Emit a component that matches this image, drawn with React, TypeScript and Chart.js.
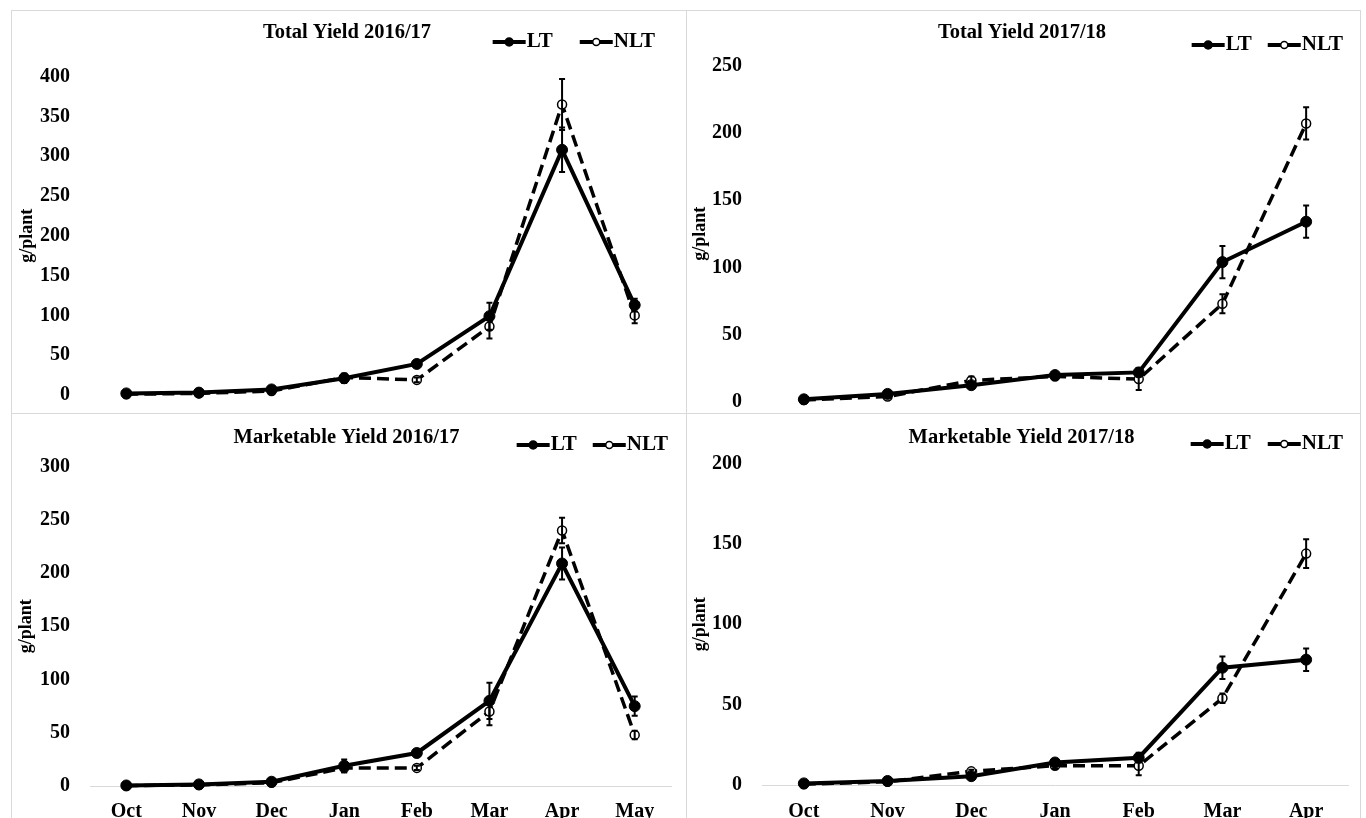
import React, { useEffect, useRef } from 'react';
import { Chart, registerables } from 'chart.js';

Chart.register(...registerables);

// ---------- data ----------
const months8 = ['Oct', 'Nov', 'Dec', 'Jan', 'Feb', 'Mar', 'Apr', 'May'];
const months7 = ['Oct', 'Nov', 'Dec', 'Jan', 'Feb', 'Mar', 'Apr'];
const seriesNames = ['LT', 'NLT'];
const yAxisLabel = 'g/plant';

const totalTitle1617 = 'Total Yield 2016/17';
const totalLT1617 = [2, 3, 7, 21, 39, 99, 308, 113];
const totalLT1617Err = [0, 0, 0, 6, 3, 17, 28, 8];
const totalNLT1617 = [1, 2, 5, 22, 19, 86, 365, 100];
const totalNLT1617Err = [0, 0, 0, 4, 3, 15, 32, 10];

const totalTitle1718 = 'Total Yield 2017/18';
const totalLT1718 = [2, 6, 12.5, 20, 22, 104, 134];
const totalLT1718Err = [0, 0, 2, 2, 3, 12, 12];
const totalNLT1718 = [1.5, 4, 16, 19, 17, 73, 207];
const totalNLT1718Err = [0, 0, 3, 2, 8, 7, 12];

const mktTitle1617 = 'Marketable Yield 2016/17';
const mktLT1617 = [0.5, 1.5, 4, 19, 31, 80, 209, 75];
const mktLT1617Err = [0, 0, 0, 6, 2, 17, 15, 9];
const mktNLT1617 = [0.3, 1, 3, 17, 17, 70, 240, 48];
const mktNLT1617Err = [0, 0, 0, 4, 2, 13, 12, 4];

const mktTitle1718 = 'Marketable Yield 2017/18';
const mktLT1718 = [1, 2.5, 5.5, 14, 17, 73, 78];
const mktLT1718Err = [0, 0, 1, 2, 3, 7, 7];
const mktNLT1718 = [0.5, 2, 8.5, 12, 12, 54, 144];
const mktNLT1718Err = [0, 0, 1, 2, 6, 3, 9];

// ---------- style ----------
const FONT = 'Liberation Serif';
const FRAME = '#d9d9d9';

// ---------- plugins ----------
const errorBars = {
  id: 'errorBars',
  afterDatasetsDraw(chart: any) {
    const ctx = chart.ctx;
    const yScale = chart.scales.y;
    ctx.save();
    ctx.strokeStyle = '#000';
    ctx.lineWidth = 2;
    ctx.setLineDash([]);
    chart.data.datasets.forEach((ds: any, di: number) => {
      const meta = chart.getDatasetMeta(di);
      const errs = ds.errors || [];
      meta.data.forEach((pt: any, i: number) => {
        const v = ds.data[i];
        const e = errs[i];
        if (!e) return;
        const yt = yScale.getPixelForValue(v + e);
        const yb = yScale.getPixelForValue(Math.max(0, v - e));
        ctx.beginPath();
        ctx.moveTo(pt.x, yt);
        ctx.lineTo(pt.x, yb);
        ctx.moveTo(pt.x - 3, yt);
        ctx.lineTo(pt.x + 3, yt);
        ctx.moveTo(pt.x - 3, yb);
        ctx.lineTo(pt.x + 3, yb);
        ctx.stroke();
      });
    });
    ctx.restore();
  },
};

const lineLegend = {
  id: 'lineLegend',
  afterDraw(chart: any, _args: any, opts: any) {
    if (!opts || opts.right === undefined) return;
    const ctx = chart.ctx;
    const dsets = chart.data.datasets;
    ctx.save();
    ctx.font = `bold ${opts.fontSize}px "${FONT}"`;
    ctx.textBaseline = 'middle';
    ctx.textAlign = 'left';
    let x = opts.right;
    const y = opts.y;
    for (let i = dsets.length - 1; i >= 0; i--) {
      const ds = dsets[i];
      const w = ctx.measureText(ds.label).width;
      x -= w;
      ctx.fillStyle = '#000';
      ctx.fillText(ds.label, x, y);
      x -= 1;
      const x1 = x - opts.lineLength;
      ctx.strokeStyle = '#000';
      ctx.lineWidth = 4;
      ctx.setLineDash([]);
      ctx.beginPath();
      ctx.moveTo(x1, y);
      ctx.lineTo(x, y);
      ctx.stroke();
      ctx.beginPath();
      ctx.arc((x1 + x) / 2, y, ds.legendRadius, 0, Math.PI * 2);
      ctx.fillStyle = ds.pointBackgroundColor;
      ctx.fill();
      ctx.lineWidth = 1.5;
      ctx.stroke();
      x = x1 - opts.gap;
    }
    ctx.restore();
  },
};

// ---------- panel ----------
type PanelProps = {
  left: number; top: number; width: number; height: number;
  labels: string[]; title: string;
  lt: number[]; ltErr: number[]; nlt: number[]; nltErr: number[];
  yMax: number; showX: boolean; xHeight: number; xPad: number;
  padLeft: number; padRight: number; padBottom: number;
  yWidth: number; yTitlePad: number;
  titleTop: number; titleBottom: number;
  legendRight: number; legendY: number; legendGap: number;
};

function Panel(p: PanelProps) {
  const ref = useRef<HTMLCanvasElement | null>(null);
  useEffect(() => {
    if (!ref.current) return;
    const chart = new Chart(ref.current, {
      type: 'line',
      data: {
        labels: p.labels,
        datasets: [
          {
            label: seriesNames[0],
            data: p.lt,
            errors: p.ltErr,
            borderColor: '#000',
            borderWidth: 4,
            pointRadius: 5.5,
            pointBackgroundColor: '#000',
            pointBorderColor: '#000',
            pointBorderWidth: 1,
            legendRadius: 4,
            tension: 0,
            clip: false,
          } as any,
          {
            label: seriesNames[1],
            data: p.nlt,
            errors: p.nltErr,
            borderColor: '#000',
            borderWidth: 3.5,
            borderDash: [12, 6],
            pointRadius: 4.5,
            pointBackgroundColor: '#fff',
            pointBorderColor: '#000',
            pointBorderWidth: 1.5,
            legendRadius: 3.5,
            tension: 0,
            clip: false,
          } as any,
        ],
      },
      options: {
        responsive: false,
        animation: false,
        layout: { padding: { left: p.padLeft, right: p.padRight, top: 0, bottom: p.padBottom } },
        plugins: {
          legend: { display: false },
          tooltip: { enabled: false },
          title: {
            display: true,
            text: p.title,
            color: '#000',
            align: 'center',
            font: { family: FONT, size: 20.5, weight: 'bold', lineHeight: 1.2 },
            padding: { top: p.titleTop, bottom: p.titleBottom },
          },
          lineLegend: { right: p.legendRight, y: p.legendY, gap: p.legendGap, lineLength: 33, fontSize: 21 },
        } as any,
        scales: {
          x: {
            type: 'category',
            offset: true,
            display: p.showX,
            grid: { display: false, drawTicks: false },
            border: { display: true, color: FRAME, width: 1 },
            ticks: {
              color: '#000',
              font: { family: FONT, size: 20, weight: 'bold', lineHeight: 1.2 },
              padding: p.xPad,
              maxRotation: 0,
              autoSkip: false,
            },
            afterFit: (s: any) => { s.height = p.xHeight; },
          },
          y: {
            min: 0,
            max: p.yMax,
            grid: { display: false, drawTicks: false },
            border: { display: false },
            ticks: {
              stepSize: 50,
              color: '#000',
              font: { family: FONT, size: 20, weight: 'bold', lineHeight: 1 },
              padding: 20,
            },
            title: {
              display: true,
              text: yAxisLabel,
              color: '#000',
              font: { family: FONT, size: 18, weight: 'bold', lineHeight: 1.2 },
              padding: { top: p.yTitlePad, bottom: 0 },
            },
            afterFit: (s: any) => {
              s.width = p.yWidth;
              s.paddingTop = 0;
              s.paddingBottom = 0;
            },
          },
        } as any,
      },
      plugins: [errorBars, lineLegend],
    } as any);
    return () => chart.destroy();
  }, []);
  return (
    <canvas
      ref={ref}
      width={p.width}
      height={p.height}
      style={{ position: 'absolute', left: p.left, top: p.top, width: p.width, height: p.height }}
    />
  );
}

function Line(props: { x: number; y: number; w: number; h: number }) {
  return (
    <div
      style={{
        position: 'absolute', left: props.x, top: props.y, width: props.w, height: props.h,
        background: FRAME,
      }}
    />
  );
}

export default function App() {
  return (
    <div
      style={{
        position: 'absolute', left: 0, top: 0, width: 1366, height: 818,
        overflow: 'hidden', background: '#fff',
      }}
    >
      <Line x={11} y={10} w={1350} h={1} />
      <Line x={11} y={413} w={1350} h={1} />
      <Line x={11} y={10} w={1} h={808} />
      <Line x={686} y={10} w={1} h={808} />
      <Line x={1360} y={10} w={1} h={808} />

      <Panel
        left={11} top={10} width={675} height={403}
        labels={months8} title={totalTitle1617}
        lt={totalLT1617} ltErr={totalLT1617Err} nlt={totalNLT1617} nltErr={totalNLT1617Err}
        yMax={400} showX={false} xHeight={0} xPad={0}
        padLeft={12} padRight={15} padBottom={18}
        yWidth={67} yTitlePad={-6.8}
        titleTop={10} titleBottom={32}
        legendRight={644} legendY={32} legendGap={27}
      />
      <Panel
        left={686} top={10} width={674} height={403}
        labels={months7} title={totalTitle1718}
        lt={totalLT1718} ltErr={totalLT1718Err} nlt={totalNLT1718} nltErr={totalNLT1718Err}
        yMax={250} showX={false} xHeight={0} xPad={0}
        padLeft={10} padRight={12} padBottom={11}
        yWidth={66} yTitlePad={-6.8}
        titleTop={10} titleBottom={21}
        legendRight={657} legendY={35} legendGap={16}
      />
      <Panel
        left={11} top={413} width={675} height={405}
        labels={months8} title={mktTitle1617}
        lt={mktLT1617} ltErr={mktLT1617Err} nlt={mktNLT1617} nltErr={mktNLT1617Err}
        yMax={300} showX={true} xHeight={32} xPad={14}
        padLeft={11} padRight={15} padBottom={0}
        yWidth={68} yTitlePad={-6.8}
        titleTop={12} titleBottom={17}
        legendRight={657} legendY={32} legendGap={16}
      />
      <Panel
        left={686} top={413} width={674} height={405}
        labels={months7} title={mktTitle1718}
        lt={mktLT1718} ltErr={mktLT1718Err} nlt={mktNLT1718} nltErr={mktNLT1718Err}
        yMax={200} showX={true} xHeight={33} xPad={15}
        padLeft={9} padRight={12} padBottom={0}
        yWidth={67} yTitlePad={-5.8}
        titleTop={12} titleBottom={14}
        legendRight={657} legendY={31} legendGap={17}
      />
    </div>
  );
}
